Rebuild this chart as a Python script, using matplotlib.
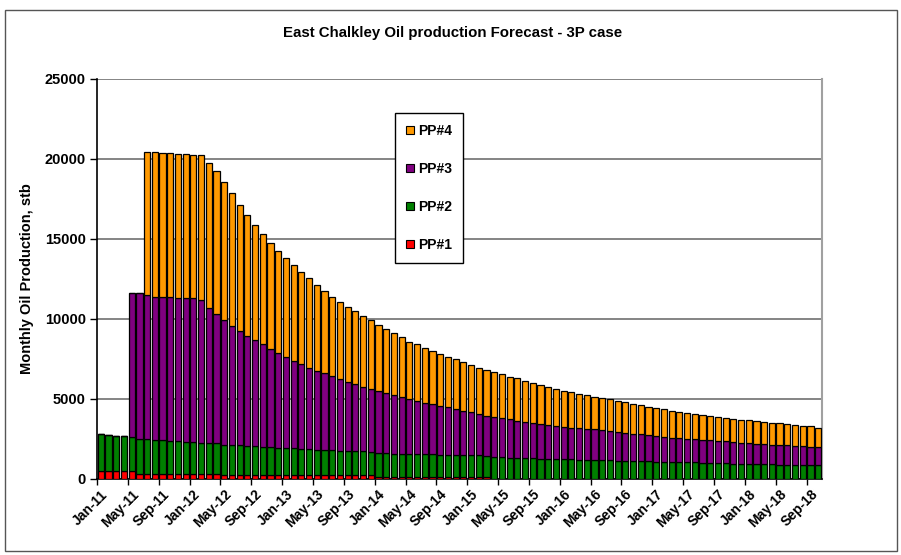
import matplotlib
matplotlib.use("Agg")
import matplotlib.pyplot as plt
from matplotlib.patches import Patch, Rectangle
import numpy as np

plt.rcParams['font.family'] = ['Liberation Sans', 'DejaVu Sans']

# Monthly production per well, Jan-11 .. Oct-18 (stb)
months = ['Jan', 'Feb', 'Mar', 'Apr', 'May', 'Jun', 'Jul', 'Aug', 'Sep', 'Oct', 'Nov', 'Dec']
periodos = [f"{m}-{y:02d}" for y in range(11, 19) for m in months][:94]

pp1 = [500] * 5 + [330] * 11 + [230] * 20 + [150] * 15 + [0] * 43

pp2 = [2300, 2250, 2170, 2160, 2130, 2180, 2140, 2120, 2100, 2070,
       2030, 1990, 1970, 1940, 1920, 1890, 1920, 1900, 1870, 1840,
       1810, 1790, 1760, 1730, 1700, 1680, 1650, 1630, 1610, 1590,
       1570, 1550, 1530, 1510, 1490, 1470, 1460, 1450, 1440, 1430,
       1420, 1410, 1400, 1390, 1370, 1360, 1350, 1340, 1330, 1320,
       1310, 1360, 1350, 1340, 1320, 1310, 1290, 1280, 1260, 1250,
       1240, 1220, 1210, 1200, 1190, 1180, 1170, 1150, 1140, 1130,
       1120, 1100, 1090, 1080, 1070, 1060, 1050, 1040, 1030, 1010,
       1000, 990, 960, 950, 940, 930, 920, 910, 900, 895,
       890, 885, 880, 875]

pp3 = [0, 0, 0, 0, 8970, 9090, 9030, 8950, 8970, 9000,
       8940, 8980, 9000, 8930, 8450, 8090, 7790, 7450, 7150, 6870,
       6650, 6400, 6140, 5940, 5720, 5490, 5310, 5100, 4930, 4780,
       4640, 4470, 4320, 4200, 4050, 3930, 3890, 3750, 3660, 3570,
       3430, 3340, 3220, 3130, 3040, 2970, 2880, 2760, 2690, 2590,
       2500, 2540, 2460, 2390, 2330, 2230, 2210, 2160, 2120, 2060,
       2030, 1990, 1980, 1950, 1910, 1900, 1850, 1810, 1760, 1700,
       1670, 1640, 1600, 1570, 1510, 1500, 1450, 1440, 1410, 1410,
       1380, 1360, 1330, 1320, 1310, 1280, 1270, 1240, 1230, 1210,
       1190, 1180, 1140, 1110]

pp4 = [0, 0, 0, 0, 0, 0, 8960, 9060, 9000, 8950,
       9030, 9010, 8970, 9030, 9050, 8940, 8610, 8270, 7900, 7560,
       7210, 6880, 6630, 6350, 6150, 5950, 5760, 5590, 5380, 5170,
       4960, 4840, 4690, 4560, 4440, 4320, 4130, 4000, 3850, 3750,
       3580, 3540, 3400, 3330, 3250, 3170, 3100, 3040, 2960, 2900,
       2850, 2770, 2730, 2670, 2640, 2610, 2520, 2440, 2360, 2320,
       2250, 2210, 2120, 2080, 2050, 1960, 1960, 1920, 1890, 1880,
       1860, 1770, 1770, 1730, 1690, 1650, 1650, 1560, 1560, 1520,
       1500, 1480, 1480, 1440, 1420, 1390, 1370, 1370, 1360, 1320,
       1300, 1270, 1270, 1230]

series = [('PP#1', pp1, '#ff0000'),
          ('PP#2', pp2, '#008000'),
          ('PP#3', pp3, '#800080'),
          ('PP#4', pp4, '#ff9900')]

fig = plt.figure(figsize=(9.01, 5.55), dpi=100)
W, H = 901, 555

# marco exterior del grafico
fig.patches.append(Rectangle((5 / W, 1 - 551 / H), 892 / W, 541 / H,
                             transform=fig.transFigure, fill=False,
                             edgecolor='#555555', linewidth=1.0))

ax = fig.add_axes([97 / W, 1 - 479 / H, 725 / W, 400 / H])

x = np.arange(len(periodos))
base = np.zeros(len(periodos))
for nombre, valores, color in series:
    v = np.array(valores, dtype=float)
    ax.bar(x, v, bottom=base, width=0.8, color=color, edgecolor='black',
           linewidth=0.9, zorder=3)
    base += v

ax.set_xlim(-0.5, len(periodos) - 0.5)
ax.set_ylim(0, 25000)
ax.set_yticks(np.arange(0, 25001, 5000))
ax.yaxis.grid(True, color='#707070', linewidth=1.2, zorder=0)
ax.tick_params(axis='y', direction='out', length=5, width=1, labelsize=10.5, pad=3)
for t in ax.get_yticklabels():
    t.set_fontweight('bold')

# etiquetas cada 4 meses, marcas entre categorias
ax.set_xticks(x[::4])
ax.set_xticklabels([periodos[i] for i in x[::4]], rotation=45, ha='right',
                   rotation_mode='anchor', fontsize=10, fontweight='bold')
ax.tick_params(axis='x', which='major', length=0, pad=6)
ax.set_xticks(np.arange(-0.5, len(periodos), 4), minor=True)
ax.tick_params(axis='x', which='minor', direction='out', length=4, width=1)

ax.spines['top'].set_visible(False)
ax.spines['right'].set_color('#a0a0a0')
ax.spines['right'].set_linewidth(1.5)
ax.spines['left'].set_linewidth(1.2)
ax.spines['bottom'].set_linewidth(1.2)

ax.set_ylabel('Monthly Oil Production, stb', fontsize=10.5, fontweight='bold', labelpad=8)
fig.text(453 / W, 1 - 33 / H, 'East Chalkley Oil production Forecast - 3P case',
         ha='center', va='center', fontsize=10.8, fontweight='bold')

handles = [Patch(facecolor=c, edgecolor='black', linewidth=0.8, label=n)
           for n, _, c in series[::-1]]
leg = ax.legend(handles=handles, loc='upper left',
                bbox_to_anchor=(395 / W, 1 - 113 / H), bbox_transform=fig.transFigure,
                frameon=True, fancybox=False, edgecolor='black', framealpha=1,
                handlelength=0.55, handleheight=0.55, handletextpad=0.3,
                labelspacing=1.73, borderpad=0.8, borderaxespad=0,
                prop={'size': 10, 'weight': 'bold'})
leg.get_frame().set_linewidth(1.0)
leg.set_zorder(5)

fig.savefig('out.png', dpi=100)
plt.close(fig)
